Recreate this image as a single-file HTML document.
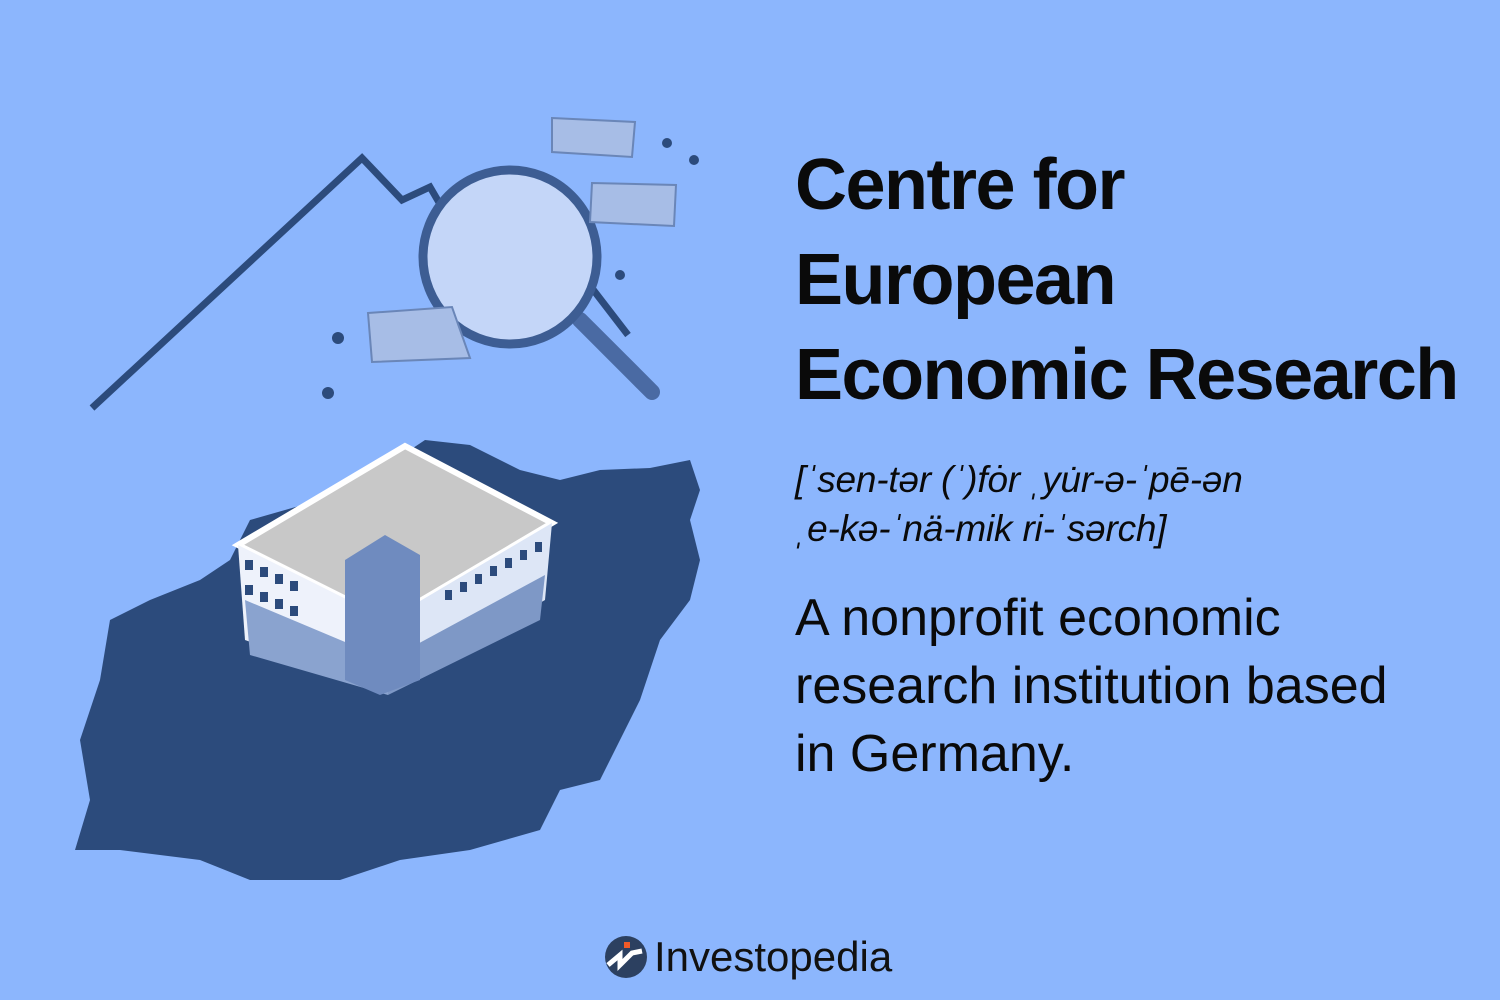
<!DOCTYPE html>
<html><head><meta charset="utf-8"><style>
html,body{margin:0;padding:0}
body{width:1500px;height:1000px;background:#8cb6fd;position:relative;overflow:hidden;font-family:"Liberation Sans",sans-serif;color:#0a0a0a}
.t{position:absolute;white-space:nowrap}
</style></head><body>
<svg width="1500" height="1000" style="position:absolute;left:0;top:0">
 <path fill="#2c4b7c" d="M425,440 L470,445 L520,470 L560,480 L600,470 L650,468 L690,460 L700,490 L690,520 L700,560 L690,600 L660,640 L640,700 L620,740 L600,780 L560,790 L540,830 L470,850 L400,860 L340,880 L250,880 L200,860 L120,850 L75,850 L90,800 L80,740 L100,680 L110,620 L150,600 L200,580 L230,560 L250,520 L320,500 L380,470 Z"/>
 <polyline points="92,408 362,158 402,200 430,187 458,235 490,228 548,300 588,283 628,335" fill="none" stroke="#2c4b7c" stroke-width="7"/>
 <line x1="580" y1="320" x2="652" y2="392" stroke="#4a6aa3" stroke-width="16" stroke-linecap="round"/>
 <circle cx="510" cy="257" r="87" fill="#c4d6f8" stroke="#3d5d93" stroke-width="9"/>
 <g fill="#a7bde6" stroke="#6a86b8" stroke-width="2">
  <path d="M552,118 L635,122 L632,157 L552,152 Z"/>
  <path d="M592,183 L676,185 L674,226 L590,222 Z"/>
  <path d="M368,313 L452,307 L470,358 L372,362 Z"/>
 </g>
 <g fill="#2c4b7c"><circle cx="667" cy="143" r="5"/><circle cx="694" cy="160" r="5"/><circle cx="620" cy="275" r="5"/><circle cx="338" cy="338" r="6"/><circle cx="328" cy="393" r="6"/></g>
 <g>
  <path d="M238,545 L405,446 L552,523 L388,620 Z" fill="#c8c8c8" stroke="#fff" stroke-width="6"/>
  <path d="M238,545 L388,620 L388,690 L245,640 Z" fill="#eef2fb"/>
  <path d="M388,620 L552,523 L545,600 L388,690 Z" fill="#dde6f6"/>
  <path d="M245,600 L388,660 L388,695 L250,655 Z" fill="#8aa3cf"/>
  <path d="M388,660 L545,575 L540,620 L388,695 Z" fill="#7e98c6"/>
  <g fill="#2c4b7c"><rect x="245" y="560" width="8" height="10"/><rect x="260" y="567" width="8" height="10"/><rect x="275" y="574" width="8" height="10"/><rect x="290" y="581" width="8" height="10"/><rect x="245" y="585" width="8" height="10"/><rect x="260" y="592" width="8" height="10"/><rect x="275" y="599" width="8" height="10"/><rect x="290" y="606" width="8" height="10"/><rect x="445" y="590" width="7" height="10"/><rect x="460" y="582" width="7" height="10"/><rect x="475" y="574" width="7" height="10"/><rect x="490" y="566" width="7" height="10"/><rect x="505" y="558" width="7" height="10"/><rect x="520" y="550" width="7" height="10"/><rect x="535" y="542" width="7" height="10"/></g>
  <path d="M345,560 L385,535 L420,555 L420,680 L380,695 L345,680 Z" fill="#6f8bbf"/>
 </g>
</svg>
<div class="t" style="left:795px;top:138px;font-size:72px;font-weight:bold;line-height:95px;letter-spacing:-1.5px">Centre for<br>European<br>Economic Research</div>
<div class="t" style="left:795px;top:455px;font-size:37px;font-style:italic;line-height:49px;letter-spacing:-0.2px">[ˈsen-tər (ˈ)fȯr ˌyu̇r-ə-ˈpē-ən<br>ˌe-kə-ˈnä-mik ri-ˈsərch]</div>
<div class="t" style="left:795px;top:584px;font-size:52px;line-height:68px;letter-spacing:0px">A nonprofit economic<br>research institution based<br>in Germany.</div>
<svg width="44" height="44" style="position:absolute;left:604px;top:935px">
 <circle cx="22" cy="22" r="21" fill="#2c4060"/>
 <polyline points="4,30 16,20 16,30 28,18 38,16" fill="none" stroke="#fff" stroke-width="5"/>
 <rect x="20" y="7" width="6" height="6" fill="#f05a28"/>
</svg>
<div class="t" style="left:654px;top:933px;font-size:42px;color:#111">Investopedia</div>
</body></html>
